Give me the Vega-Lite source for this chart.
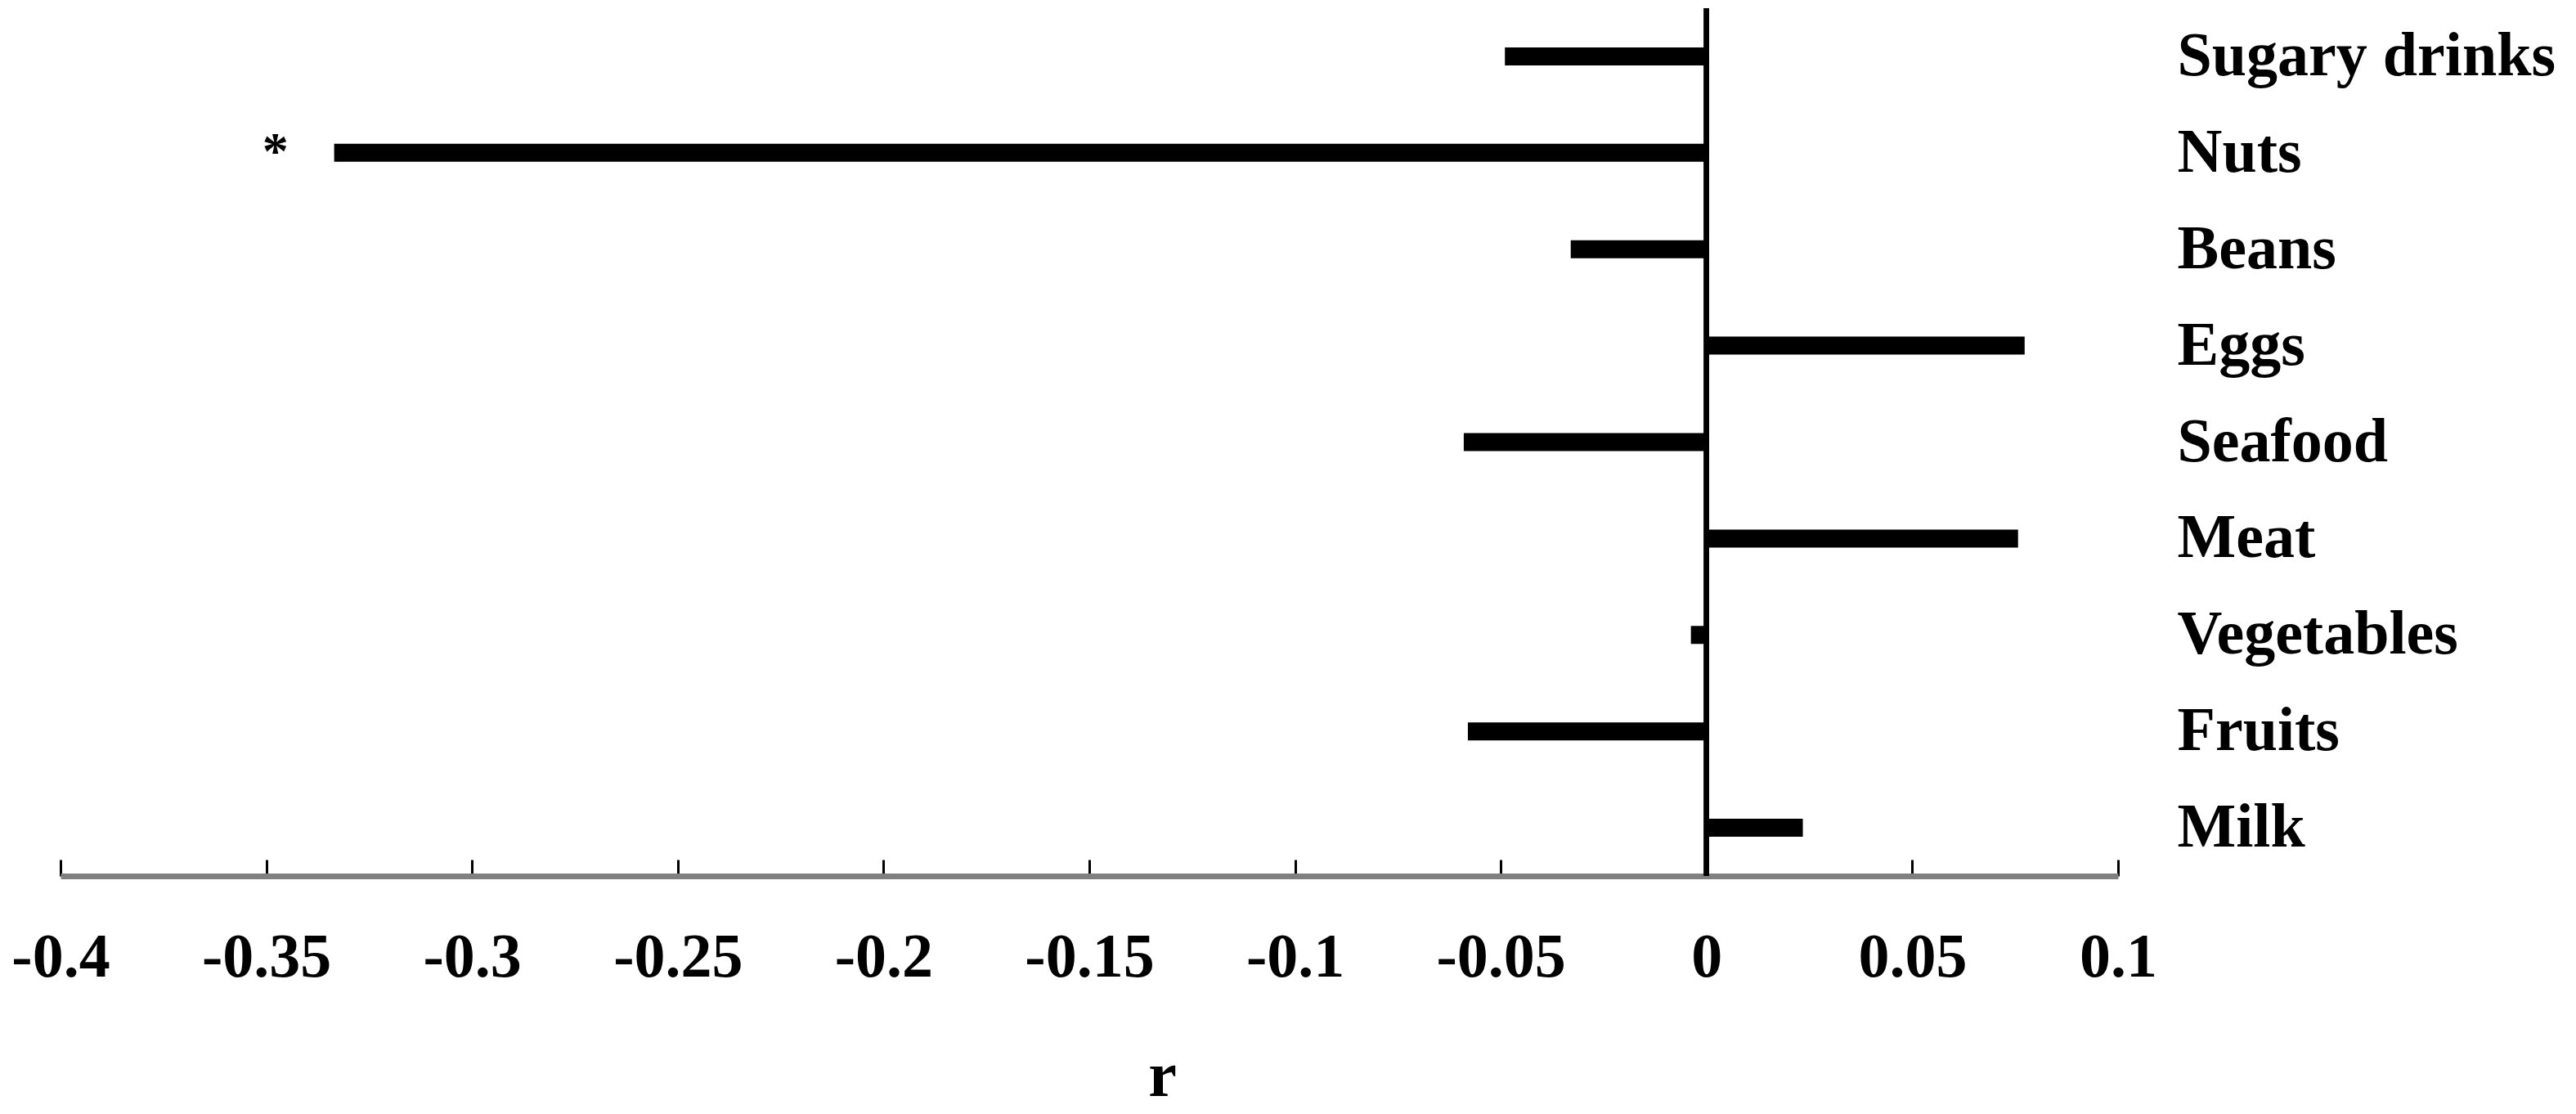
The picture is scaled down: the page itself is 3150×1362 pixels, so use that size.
{
  "$schema": "https://vega.github.io/schema/vega-lite/v6.json",
  "autosize": {"type": "none"},
  "width": 2516,
  "height": 1061,
  "padding": {"left": 74, "top": 10, "right": 560, "bottom": 291},
  "background": "white",
  "config": {
    "view": {"stroke": null},
    "font": "Liberation Serif",
    "axis": {"grid": false}
  },
  "data": {
    "values": [
      {"food": "Sugary drinks", "r": -0.049, "sig": ""},
      {"food": "Nuts", "r": -0.3335, "sig": "*"},
      {"food": "Beans", "r": -0.033, "sig": ""},
      {"food": "Eggs", "r": 0.0773, "sig": ""},
      {"food": "Seafood", "r": -0.059, "sig": ""},
      {"food": "Meat", "r": 0.0757, "sig": ""},
      {"food": "Vegetables", "r": -0.0038, "sig": ""},
      {"food": "Fruits", "r": -0.058, "sig": ""},
      {"food": "Milk", "r": 0.0234, "sig": ""}
    ]
  },
  "encoding": {
    "y": {
      "field": "food",
      "type": "nominal",
      "sort": null,
      "scale": {"paddingInner": 0, "paddingOuter": 0},
      "axis": {
        "orient": "right",
        "title": null,
        "domain": false,
        "ticks": false,
        "labelPadding": 72,
        "labelAlign": "left",
        "labelBaseline": "middle",
        "labelFont": "Liberation Serif",
        "labelFontWeight": "bold",
        "labelFontSize": 76,
        "labelColor": "black",
        "labelLimit": 0
      }
    }
  },
  "layer": [
    {
      "mark": {"type": "bar", "color": "black", "size": 22},
      "encoding": {
        "x": {
          "field": "r",
          "type": "quantitative",
          "scale": {"domain": [-0.4, 0.1], "nice": false, "zero": false},
          "axis": {
            "orient": "bottom",
            "title": "r",
            "values": [-0.4, -0.35, -0.3, -0.25, -0.2, -0.15, -0.1, -0.05, 0, 0.05, 0.1],
            "labelExpr": "toString(datum.value)",
            "domainColor": "#808080",
            "domainWidth": 7,
            "tickColor": "black",
            "tickWidth": 3,
            "tickSize": -20,
            "labelPadding": 142,
            "labelBaseline": "alphabetic",
            "labelFont": "Liberation Serif",
            "labelFontWeight": "bold",
            "labelFontSize": 76,
            "labelColor": "black",
            "labelFlush": false,
            "labelOverlap": false,
            "titleFont": "Liberation Serif",
            "titleFontWeight": "bold",
            "titleFontSize": 78,
            "titleColor": "black",
            "titleX": 1347,
            "titleY": 268,
            "titleAlign": "center",
            "titleBaseline": "alphabetic"
          }
        }
      }
    },
    {
      "mark": {"type": "rule", "color": "black", "strokeWidth": 6},
      "encoding": {"x": {"datum": 0, "type": "quantitative"}, "y": null}
    },
    {
      "mark": {"type": "text", "color": "black", "font": "Liberation Serif", "fontWeight": "bold", "fontSize": 64, "align": "center", "baseline": "alphabetic", "dx": -72, "dy": 19},
      "encoding": {
        "x": {"field": "r", "type": "quantitative"},
        "text": {"field": "sig"}
      }
    }
  ]
}
